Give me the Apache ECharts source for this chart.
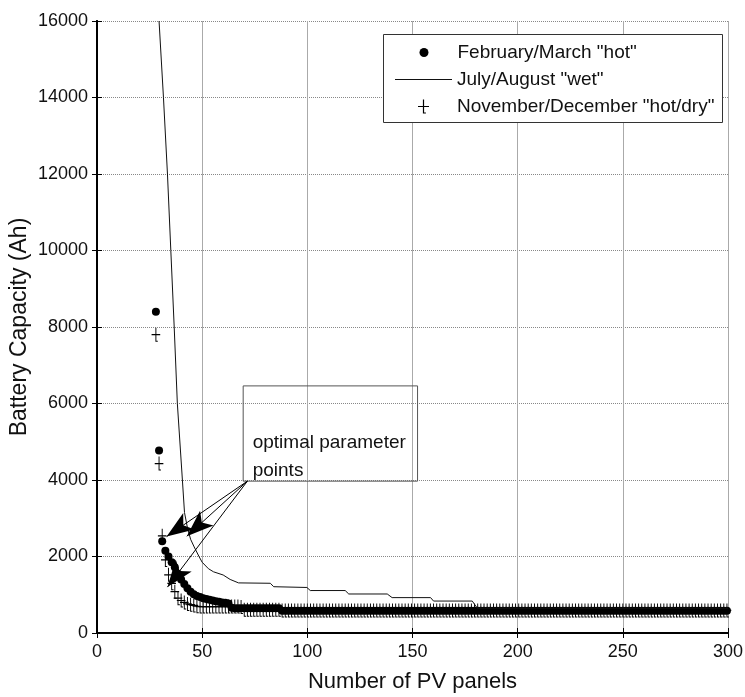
<!DOCTYPE html>
<html>
<head>
<meta charset="utf-8">
<title>Battery Capacity vs Number of PV panels</title>
<script src="https://cdn.jsdelivr.net/npm/echarts@6/dist/echarts.min.js"></script>
<style>
  html, body { margin: 0; padding: 0; background: #fff; }
  #main { width: 745px; height: 697px; }
</style>
</head>
<body>
<div id="main"></div>
<script>
// x positions of the markers (number of PV panels)
var panelX = [
  28, 29.5, 31, 32.5, 34, 35.5, 37, 38.5, 40, 41.5, 43, 44.5, 46, 47.5, 49, 50.5, 52, 53.5, 55, 56.5,
  58, 59.5, 61, 62.5, 64, 65.5, 67, 68.5, 70, 71.5, 73, 74.5, 76, 77.5, 79, 80.5, 82, 83.5, 85, 86.5,
  88, 89.5, 91, 92.5, 94, 95.5, 97, 98.5, 100, 101.5, 103, 104.5, 106, 107.5, 109, 110.5, 112, 113.5, 115, 116.5,
  118, 119.5, 121, 122.5, 124, 125.5, 127, 128.5, 130, 131.5, 133, 134.5, 136, 137.5, 139, 140.5, 142, 143.5, 145, 146.5,
  148, 149.5, 151, 152.5, 154, 155.5, 157, 158.5, 160, 161.5, 163, 164.5, 166, 167.5, 169, 170.5, 172, 173.5, 175, 176.5,
  178, 179.5, 181, 182.5, 184, 185.5, 187, 188.5, 190, 191.5, 193, 194.5, 196, 197.5, 199, 200.5, 202, 203.5, 205, 206.5,
  208, 209.5, 211, 212.5, 214, 215.5, 217, 218.5, 220, 221.5, 223, 224.5, 226, 227.5, 229, 230.5, 232, 233.5, 235, 236.5,
  238, 239.5, 241, 242.5, 244, 245.5, 247, 248.5, 250, 251.5, 253, 254.5, 256, 257.5, 259, 260.5, 262, 263.5, 265, 266.5,
  268, 269.5, 271, 272.5, 274, 275.5, 277, 278.5, 280, 281.5, 283, 284.5, 286, 287.5, 289, 290.5, 292, 293.5, 295, 296.5,
  298, 299.5
];
// February/March "hot" (dots)
var febY = [
  8400, 4770, 2400, 2150, 2000, 1850, 1720, 1550, 1400, 1280, 1170, 1080, 1010, 970, 940, 910, 890, 870, 850, 830,
  820, 800, 790, 770, 660, 650, 650, 650, 650, 650, 650, 650, 650, 650, 650, 650, 650, 650, 650, 650,
  580, 580, 580, 580, 580, 580, 580, 580, 580, 580, 580, 580, 580, 580, 580, 580, 580, 580, 580, 580,
  580, 580, 580, 580, 580, 580, 580, 580, 580, 580, 580, 580, 580, 580, 580, 580, 580, 580, 580, 580,
  580, 580, 580, 580, 580, 580, 580, 580, 580, 580, 580, 580, 580, 580, 580, 580, 580, 580, 580, 580,
  580, 580, 580, 580, 580, 580, 580, 580, 580, 580, 580, 580, 580, 580, 580, 580, 580, 580, 580, 580,
  580, 580, 580, 580, 580, 580, 580, 580, 580, 580, 580, 580, 580, 580, 580, 580, 580, 580, 580, 580,
  580, 580, 580, 580, 580, 580, 580, 580, 580, 580, 580, 580, 580, 580, 580, 580, 580, 580, 580, 580,
  580, 580, 580, 580, 580, 580, 580, 580, 580, 580, 580, 580, 580, 580, 580, 580, 580, 580, 580, 580,
  580, 580
];
// November/December "hot/dry" (plus)
var novY = [
  7800, 4430, 2540, 1910, 1520, 1300, 1080, 910, 850, 800, 760, 740, 720, 700, 690, 690, 690, 690, 690, 690,
  690, 690, 690, 690, 690, 690, 690, 680, 610, 610, 610, 610, 610, 610, 610, 610, 610, 610, 610, 610,
  590, 590, 590, 590, 590, 590, 590, 590, 590, 590, 590, 590, 590, 590, 590, 590, 590, 590, 590, 590,
  590, 590, 590, 590, 590, 590, 590, 590, 590, 590, 590, 590, 590, 590, 590, 590, 590, 590, 590, 590,
  590, 590, 590, 590, 590, 590, 590, 590, 590, 590, 590, 590, 590, 590, 590, 590, 590, 590, 590, 590,
  590, 590, 590, 590, 590, 590, 590, 590, 590, 590, 590, 590, 590, 590, 590, 590, 590, 590, 590, 590,
  590, 590, 590, 590, 590, 590, 590, 590, 590, 590, 590, 590, 590, 590, 590, 590, 590, 590, 590, 590,
  590, 590, 590, 590, 590, 590, 590, 590, 590, 590, 590, 590, 590, 590, 590, 590, 590, 590, 590, 590,
  590, 590, 590, 590, 590, 590, 590, 590, 590, 590, 590, 590, 590, 590, 590, 590, 590, 590, 590, 590,
  590, 590
];
// July/August "wet" (line)
var julX = [29.5, 31.6, 33.5, 35.1, 36.7, 38.2, 40.6, 41.6, 43, 44.5, 46.2, 48.5, 50, 53, 55.4, 60, 63.3, 67.3,
  82.4, 84, 99.8, 101.4, 118, 119.7, 138, 140.3, 158.6, 160, 178.4, 180.8, 300];
var julY = [16000, 14000, 12000, 10000, 8000, 6000, 4000, 3150, 2750, 2450, 2250, 2000, 1850, 1680, 1600, 1516, 1400, 1310,
  1300, 1210, 1190, 1110, 1110, 1020, 1020, 925, 925, 835, 835, 650, 650];

// annotation "optimal parameter points" (data coords)
var noteFrom = [71.5, 3970];
var noteTo = [[33.1, 2520], [42.7, 2530], [33.5, 1200]];
var noteBox = [[69.5, 6460], [152.4, 3970]];

var names = ['February/March "hot"', 'July/August "wet"', 'November/December "hot/dry"'];
var font = 'Liberation Sans, Arial, Helvetica, sans-serif';
// plus marker with a small foot, like the original
var plusPath = 'path://M4.9,0h1.2v14h-1.2z M0,6.4h11v1.2h-11z M4.9,13h3v1h-3z';

function pairs(xs, ys) {
  var out = [];
  for (var i = 0; i < xs.length; i++) {
    out.push([xs[i], ys[i]]);
  }
  return out;
}

var arrows = noteTo.map(function (t) {
  return [{ coord: noteFrom }, { coord: t }];
});

var chart = echarts.init(document.getElementById('main'));
var frame = { lineStyle: { color: '#000', width: 2 } };
var inTick = { show: true, inside: true, length: 5, lineStyle: { color: '#000', width: 1 } };
var legendText = { fontSize: 19, color: '#111', fontFamily: font };

var option = {
  animation: false,
  backgroundColor: '#fff',
  textStyle: { fontFamily: font },
  grid: { left: 97, right: 17, top: 21, bottom: 64, containLabel: false, outerBoundsMode: 'none' },
  legend: [
    { data: [{ name: names[0], icon: 'circle' }], left: 414.5, top: 38, itemWidth: 57, itemHeight: 9,
      selectedMode: false, textStyle: legendText },
    { data: [{ name: names[1], icon: 'rect' }], left: 390, top: 65, itemWidth: 57, itemHeight: 1,
      selectedMode: false, textStyle: legendText },
    { data: [{ name: names[2], icon: plusPath }], left: 413, top: 92, itemWidth: 57, itemHeight: 14,
      selectedMode: false, textStyle: legendText }
  ],
  graphic: [{
    type: 'rect', left: 383, top: 34, z: 3,
    shape: { width: 339, height: 88 },
    style: { fill: '#fff', stroke: '#333', lineWidth: 1 }
  }],
  xAxis: [{
    type: 'value', min: 0, max: 300, interval: 50,
    name: 'Number of PV panels', nameLocation: 'middle', nameGap: 38, nameMoveOverlap: false,
    nameTextStyle: { fontSize: 22, color: '#111', fontFamily: font },
    axisLine: frame, axisTick: inTick,
    axisLabel: { fontSize: 18, color: '#111', margin: 10, fontFamily: font },
    splitLine: { show: true, lineStyle: { color: '#aaa', width: 1, type: 'solid' } }
  }, {
    type: 'value', position: 'top', min: 0, max: 300, interval: 50,
    axisLine: frame, axisTick: inTick, axisLabel: { show: false }, splitLine: { show: false }
  }],
  yAxis: [{
    type: 'value', min: 0, max: 16000, interval: 2000,
    name: 'Battery Capacity (Ah)', nameLocation: 'middle', nameGap: 66, nameMoveOverlap: false,
    nameTextStyle: { fontSize: 23, color: '#111', fontFamily: font },
    axisLine: frame, axisTick: inTick,
    axisLabel: {
      fontSize: 18, color: '#111', margin: 9, fontFamily: font,
      formatter: function (v) { return String(v); }
    },
    splitLine: { show: true, lineStyle: { color: '#888', width: 1, type: 'dotted' } }
  }, {
    type: 'value', position: 'right', min: 0, max: 16000, interval: 2000,
    axisLine: frame, axisTick: inTick, axisLabel: { show: false }, splitLine: { show: false }
  }],
  series: [{
    name: names[2],
    type: 'scatter',
    z: 2,
    symbol: plusPath,
    symbolSize: [11, 14],
    symbolKeepAspect: true,
    itemStyle: { color: '#000', opacity: 1 },
    data: pairs(panelX, novY)
  }, {
    name: names[0],
    type: 'scatter',
    z: 3,
    symbol: 'circle',
    symbolSize: 8,
    itemStyle: { color: '#000', opacity: 1 },
    data: pairs(panelX, febY),
    markLine: {
      silent: true,
      animation: false,
      symbol: ['none', 'arrow'],
      symbolSize: [15, 27],
      label: { show: false },
      lineStyle: { color: '#000', width: 1, type: 'solid' },
      emphasis: { disabled: true },
      data: arrows
    },
    markArea: {
      silent: true,
      itemStyle: { color: 'rgba(255,255,255,0)', borderColor: '#555', borderWidth: 1 },
      label: {
        show: true, position: 'insideBottomLeft', distance: 0, offset: [10, 3],
        formatter: 'optimal parameter\npoints',
        fontSize: 19, lineHeight: 28, color: '#111', fontFamily: font
      },
      data: [[{ coord: noteBox[0] }, { coord: noteBox[1] }]]
    }
  }, {
    name: names[1],
    type: 'line',
    z: 4,
    symbol: 'none',
    itemStyle: { color: '#111' },
    lineStyle: { color: '#111', width: 1 },
    data: pairs(julX, julY)
  }]
};

chart.setOption(option);
</script>
</body>
</html>
